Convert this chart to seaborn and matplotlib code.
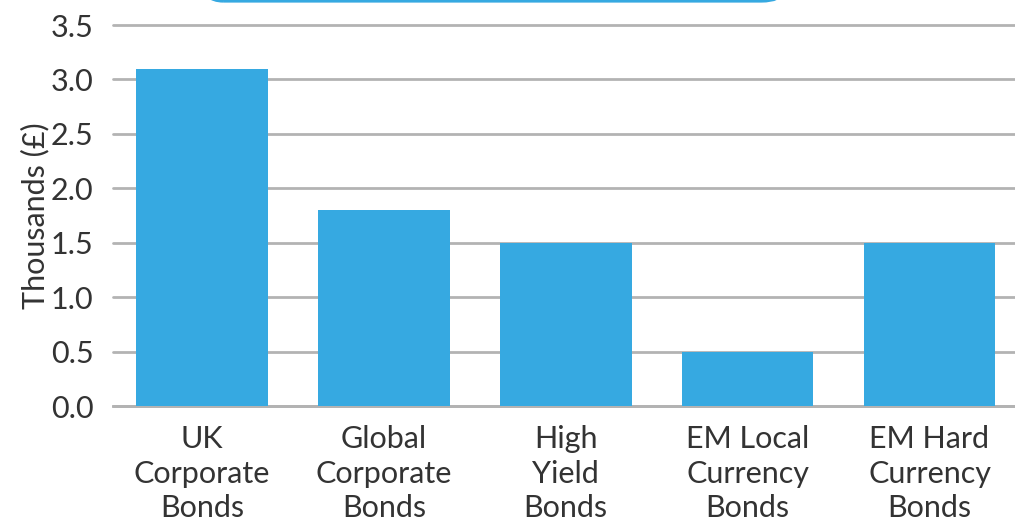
import matplotlib
matplotlib.use("Agg")
import matplotlib.pyplot as plt
import pandas as pd
import seaborn as sns
from matplotlib.patches import FancyBboxPatch

categories = ["UK\nCorporate\nBonds", "Global\nCorporate\nBonds", "High\nYield\nBonds",
              "EM Local\nCurrency\nBonds", "EM Hard\nCurrency\nBonds"]
values = [3.1, 1.8, 1.5, 0.5, 1.5]
y_ticks = [0.0, 0.5, 1.0, 1.5, 2.0, 2.5, 3.0, 3.5]

bar_color = "#36a9e1"
text_color = "#333333"
grid_color = "#b3b3b3"

sns.set_theme(style="white")
plt.rcParams["font.family"] = ["Lato", "DejaVu Sans"]

df = pd.DataFrame({"category": categories, "value": values})

fig = plt.figure(figsize=(10.15, 5.22), dpi=100)
ax = fig.add_axes([0.1113, 0.2222, 0.8887, 0.7298])

sns.barplot(data=df, x="category", y="value", color=bar_color, saturation=1,
            width=0.724, linewidth=0, ax=ax, zorder=3)

ax.set_ylim(0, 3.5)
ax.set_xlim(-0.49, 4.47)
ax.set_yticks(y_ticks)
ax.set_yticklabels([f"{t:.1f}" for t in y_ticks])
ax.yaxis.grid(True, color=grid_color, linewidth=2, zorder=0)
ax.set_axisbelow(True)
for gl in ax.get_ygridlines():
    gl.set_clip_on(False)

for side in ["left", "right", "top"]:
    ax.spines[side].set_visible(False)
ax.spines["bottom"].set_color(grid_color)
ax.spines["bottom"].set_linewidth(2)

ax.tick_params(axis="both", length=0, labelsize=22, colors=text_color)
ax.tick_params(axis="y", pad=14)
ax.tick_params(axis="x", pad=14)
for lbl in ax.get_xticklabels():
    lbl.set_linespacing(1.28)

ax.set_xlabel("")
ax.set_ylabel("Thousands (£)", fontsize=22, color=text_color)
ax.yaxis.set_label_coords(-0.07, 0.5)

# cut-off rounded box at the very top
box = FancyBboxPatch((0.2, 0.999), 0.57, 0.06, boxstyle="round,pad=0,rounding_size=0.02",
                     transform=fig.transFigure, facecolor="none", edgecolor=bar_color,
                     linewidth=3, clip_on=False)
fig.patches.append(box)

fig.savefig("out.png", dpi=100)
plt.close(fig)
